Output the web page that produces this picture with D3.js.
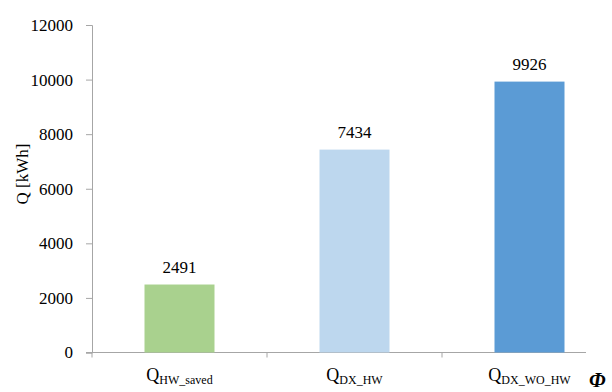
<!DOCTYPE html>
<html>
<head>
<meta charset="utf-8">
<script src="https://cdn.jsdelivr.net/npm/d3@7"></script>
<style>
  html, body { margin: 0; padding: 0; background: #fff; }
  svg { display: block; }
</style>
</head>
<body>
<svg id="chart" width="612" height="392"></svg>
<script>
// Heat quantities per case
const categories = ["HW_saved", "DX_HW", "DX_WO_HW"];
const values = [2491, 7434, 9926];
const barColors = ["#A9D18E", "#BDD7EE", "#5B9BD5"];
const yTicks = [0, 2000, 4000, 6000, 8000, 10000, 12000];

const FONT = "'Liberation Serif'";
const svg = d3.select("#chart");
const axisColor = "#A6A6A6";

const x = d3.scaleBand().domain(categories).range([92, 617]).paddingInner(0).paddingOuter(0);
const y = d3.scaleLinear().domain([0, 12000]).range([352.5, 25]);
const barW = 70;

// y axis
const yAxis = svg.append("g")
  .attr("transform", "translate(92,0)")
  .call(d3.axisLeft(y).tickValues(yTicks).tickSize(6).tickPadding(13).tickFormat(d => d));
yAxis.attr("font-family", null).attr("font-size", null);
yAxis.select(".domain").attr("stroke", axisColor);
yAxis.selectAll(".tick line").attr("stroke", axisColor);
yAxis.selectAll(".tick text")
  .style("font-family", FONT).style("font-size", "17px").attr("fill", "#000");

// x axis baseline (canvas ends before the last band closes)
svg.append("line")
  .attr("x1", 86).attr("x2", 586)
  .attr("y1", y(0)).attr("y2", y(0))
  .attr("stroke", axisColor);
const bounds = categories.map(c => x(c));
svg.selectAll(".xtick").data(bounds).enter().append("line")
  .attr("class", "xtick")
  .attr("x1", d => d).attr("x2", d => d)
  .attr("y1", y(0)).attr("y2", y(0) + 5)
  .attr("stroke", axisColor);

// bars
svg.selectAll(".bar").data(values).enter().append("rect")
  .attr("class", "bar")
  .attr("x", (d, i) => x(categories[i]) + x.bandwidth() / 2 - barW / 2)
  .attr("width", barW)
  .attr("y", d => y(d))
  .attr("height", d => y(0) - y(d))
  .attr("fill", (d, i) => barColors[i]);

// value labels
svg.selectAll(".val").data(values).enter().append("text")
  .attr("class", "val")
  .attr("x", (d, i) => x(categories[i]) + x.bandwidth() / 2)
  .attr("y", d => y(d) - 12)
  .attr("text-anchor", "middle")
  .style("font-family", FONT)
  .style("font-size", "17px")
  .text(d => d);

// category labels with subscripts
const cl = svg.selectAll(".cat").data(categories).enter().append("text")
  .attr("class", "cat")
  .attr("x", d => x(d) + x.bandwidth() / 2)
  .attr("y", 381)
  .attr("text-anchor", "middle")
  .style("font-family", FONT);
cl.append("tspan").style("font-size", "18px").text("Q");
cl.append("tspan").style("font-size", "12px").attr("dy", 3).text(d => d);

// y axis title
svg.append("text")
  .attr("transform", "translate(28,174) rotate(-90)")
  .attr("text-anchor", "middle")
  .style("font-family", FONT)
  .style("font-size", "17px")
  .text("Q [kWh]");

// Φ symbol at lower right
svg.append("text")
  .attr("x", 589).attr("y", 387)
  .style("font-family", FONT)
  .style("font-size", "21px")
  .style("font-weight", "bold")
  .style("font-style", "italic")
  .text("Φ");
</script>
</body>
</html>
